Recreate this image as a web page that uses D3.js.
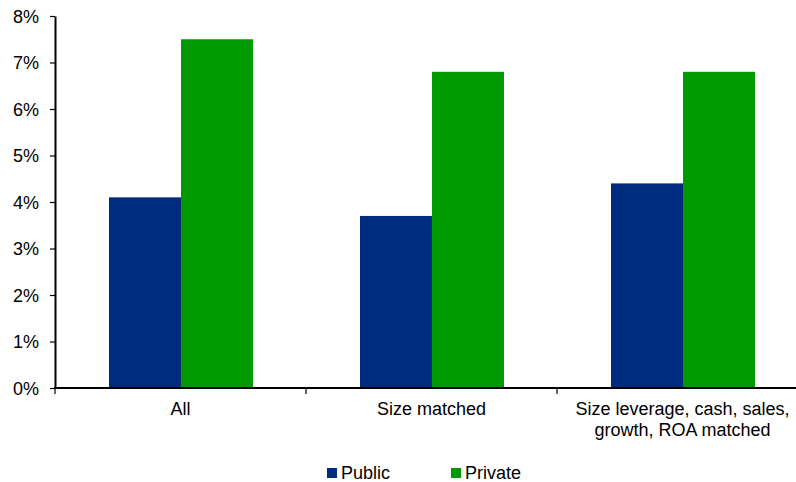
<!DOCTYPE html>
<html>
<head>
<meta charset="utf-8">
<script src="https://cdn.jsdelivr.net/npm/d3@7"></script>
<style>
  body { margin: 0; background: #fff; }
  text { font-family: "Liberation Sans", Arial, sans-serif; fill: #000; }
</style>
</head>
<body>
<svg id="chart" width="796" height="482"></svg>
<script>
var categories = ["All", "Size matched", "Size leverage, cash, sales,|growth, ROA matched"];
var seriesNames = ["Public", "Private"];
var publicValues = [4.1, 3.7, 4.4];
var privateValues = [7.5, 6.8, 6.8];
var yTicks = [0, 1, 2, 3, 4, 5, 6, 7, 8];
var colours = ["#002c80", "#009900"];

var svg = d3.select("#chart");
var pLeft = 55, pTop = 16, pBottom = 388, catWidth = 251;

var x = d3.scaleBand().domain(categories).range([pLeft, pLeft + catWidth * categories.length])
    .paddingInner(0).paddingOuter(0);
var xs = d3.scaleBand().domain(seriesNames).range([54, 54 + 144]);
var y = d3.scaleLinear().domain([0, 8]).range([pBottom, pTop]);

var data = categories.map(function(c, i) {
  return {cat: c, vals: [publicValues[i], privateValues[i]]};
});

// bars
var groups = svg.selectAll(".grp").data(data).enter().append("g")
    .attr("class", "grp")
    .attr("transform", function(d) { return "translate(" + x(d.cat) + ",0)"; });
groups.selectAll("rect").data(function(d) { return d.vals.map(function(v, j) { return {s: seriesNames[j], v: v, j: j}; }); })
  .enter().append("rect")
    .attr("x", function(d) { return xs(d.s); })
    .attr("width", xs.bandwidth())
    .attr("y", function(d) { return y(d.v); })
    .attr("height", function(d) { return pBottom - y(d.v); })
    .style("fill", function(d) { return colours[d.j]; });

// y axis
var yaxis = svg.append("g")
    .attr("transform", "translate(" + pLeft + ",0)")
    .call(d3.axisLeft(y).tickValues(yTicks).tickFormat(function(d) { return d + "%"; }).tickSize(5).tickSizeOuter(0));
yaxis.select(".domain").attr("stroke", "#000").attr("stroke-width", 2);
yaxis.selectAll(".tick line").attr("stroke", "#000").attr("stroke-width", 1.2);
yaxis.selectAll(".tick text").attr("x", -16).attr("dy", "0.35em").style("font-size", "18px")
    .style("font-family", "'Liberation Sans', Arial, sans-serif").attr("fill", "#000");

// x axis
var xaxis = svg.append("g").attr("transform", "translate(0," + pBottom + ")");
xaxis.append("line").attr("x1", pLeft - 1).attr("x2", 796).attr("y1", 0).attr("y2", 0)
    .attr("stroke", "#000").attr("stroke-width", 2);
var bounds = categories.map(function(c) { return x(c); });
xaxis.selectAll(".xt").data(bounds).enter().append("line")
    .attr("x1", function(d) { return d; }).attr("x2", function(d) { return d; })
    .attr("y1", 0).attr("y2", 6).attr("stroke", "#000").attr("stroke-width", 1.2);
xaxis.selectAll(".xl").data(categories).enter().append("text")
    .attr("text-anchor", "middle")
    .style("font-size", "18px")
    .each(function(d) {
      var lines = d.split("|");
      d3.select(this).selectAll("tspan").data(lines).enter().append("tspan")
        .attr("x", x(d) + x.bandwidth() / 2)
        .attr("y", function(l, i) { return 27 + i * 21; })
        .text(function(l) { return l; });
    });

// legend
var legendX = [327, 451];
var legend = svg.selectAll(".leg").data(seriesNames).enter().append("g")
    .attr("transform", function(d, i) { return "translate(" + legendX[i] + ",468)"; });
legend.append("rect").attr("width", 10).attr("height", 10).style("fill", function(d, i) { return colours[i]; });
legend.append("text").attr("x", 14).attr("y", 11).style("font-size", "18px").text(function(d) { return d; });
</script>
</body>
</html>
